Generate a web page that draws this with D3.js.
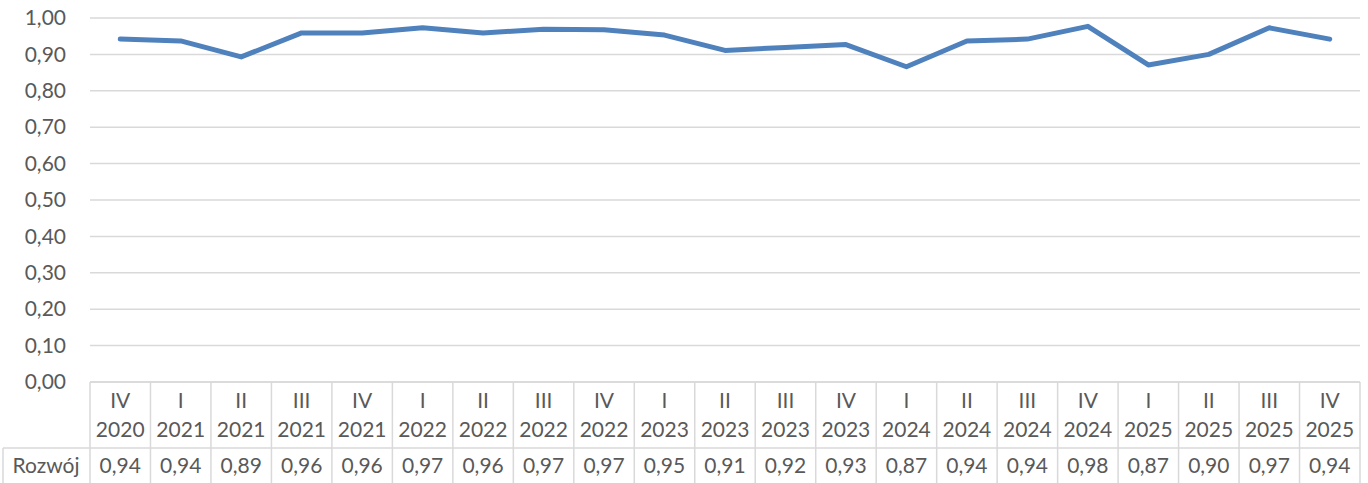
<!DOCTYPE html>
<html><head><meta charset="utf-8">
<script src="https://cdn.jsdelivr.net/npm/d3@7"></script>
<style>html,body{margin:0;padding:0;background:#fff;}svg{display:block;}</style>
</head><body>
<svg id="c" width="1368" height="483"></svg>
<script>
const quarters = ["IV","I","II","III","IV","I","II","III","IV","I","II","III","IV","I","II","III","IV","I","II","III","IV"];
const years = ["2020","2021","2021","2021","2021","2022","2022","2022","2022","2023","2023","2023","2023","2024","2024","2024","2024","2025","2025","2025","2025"];
const values = [0.942,0.937,0.893,0.959,0.959,0.973,0.959,0.969,0.968,0.953,0.911,0.919,0.927,0.866,0.937,0.942,0.977,0.871,0.900,0.973,0.942];
const seriesName = "Rozwój";
const yTicks = [0,0.1,0.2,0.3,0.4,0.5,0.6,0.7,0.8,0.9,1.0];

const svg = d3.select("#c");
const font = "Lato, 'Open Sans', sans-serif";
const fs = "21px";
const txt = "#595959", grid = "#d9d9d9";
const L = 90, R = 1360, T = 18, B = 382;
const cats = quarters.map((q,i)=>i);
const x = d3.scaleBand().domain(cats).range([L,R]);
const y = d3.scaleLinear().domain([0,1]).range([B,T]);
const fmt = v => d3.format(".2f")(v).replace(".", ",");

// gridlines
svg.append("g").selectAll("line").data(yTicks).join("line")
  .attr("x1",L).attr("x2",R).attr("y1",d=>y(d)).attr("y2",d=>y(d))
  .attr("stroke",grid).attr("stroke-width",1.5);

// y axis labels
const yAxis = svg.append("g").attr("transform",`translate(${L},0)`)
  .call(d3.axisLeft(y).tickValues(yTicks).tickFormat(fmt).tickSize(0).tickPadding(24));
yAxis.select(".domain").remove();
yAxis.selectAll("text").attr("fill",txt).style("font-family",font).style("font-size",fs);

// table
const rowTop = B, rowMid = 448, rowBot = 483;
const tg = svg.append("g").attr("stroke",grid).attr("stroke-width",1.5);
const edges = cats.map(c=>x(c)).concat([R]);
tg.selectAll("line.v").data(edges).join("line").attr("class","v")
  .attr("x1",d=>d).attr("x2",d=>d).attr("y1",rowTop).attr("y2",rowBot+2);
tg.append("line").attr("x1",3).attr("x2",3).attr("y1",rowMid).attr("y2",rowBot+2);
tg.append("line").attr("x1",3).attr("x2",R).attr("y1",rowMid).attr("y2",rowMid);
tg.append("line").attr("x1",L).attr("x2",R).attr("y1",rowTop).attr("y2",rowTop);

const xAxisG = svg.append("g");
xAxisG.selectAll("text.q").data(cats).join("text").attr("class","q")
  .attr("x",c=>x(c)+x.bandwidth()/2).attr("y",408).attr("text-anchor","middle")
  .attr("fill",txt).style("font-family",font).style("font-size",fs).text(c=>quarters[c]);
xAxisG.selectAll("text.y").data(cats).join("text").attr("class","y")
  .attr("x",c=>x(c)+x.bandwidth()/2).attr("y",437).attr("text-anchor","middle")
  .attr("fill",txt).style("font-family",font).style("font-size",fs).text(c=>years[c]);
xAxisG.selectAll("text.v").data(cats).join("text").attr("class","v")
  .attr("x",c=>x(c)+x.bandwidth()/2).attr("y",473).attr("text-anchor","middle")
  .attr("fill",txt).style("font-family",font).style("font-size",fs).text(c=>fmt(Math.round(values[c]*100)/100));
svg.append("text").attr("x",46).attr("y",473).attr("text-anchor","middle")
  .attr("fill",txt).style("font-family",font).style("font-size",fs).text(seriesName);

// line
const line = d3.line().x((d,i)=>x(i)+x.bandwidth()/2).y(d=>y(d));
svg.append("path").datum(values).attr("d",line).attr("fill","none")
  .attr("stroke","#4f81bd").attr("stroke-width",5)
  .attr("stroke-linejoin","round").attr("stroke-linecap","round");
</script>
</body></html>
